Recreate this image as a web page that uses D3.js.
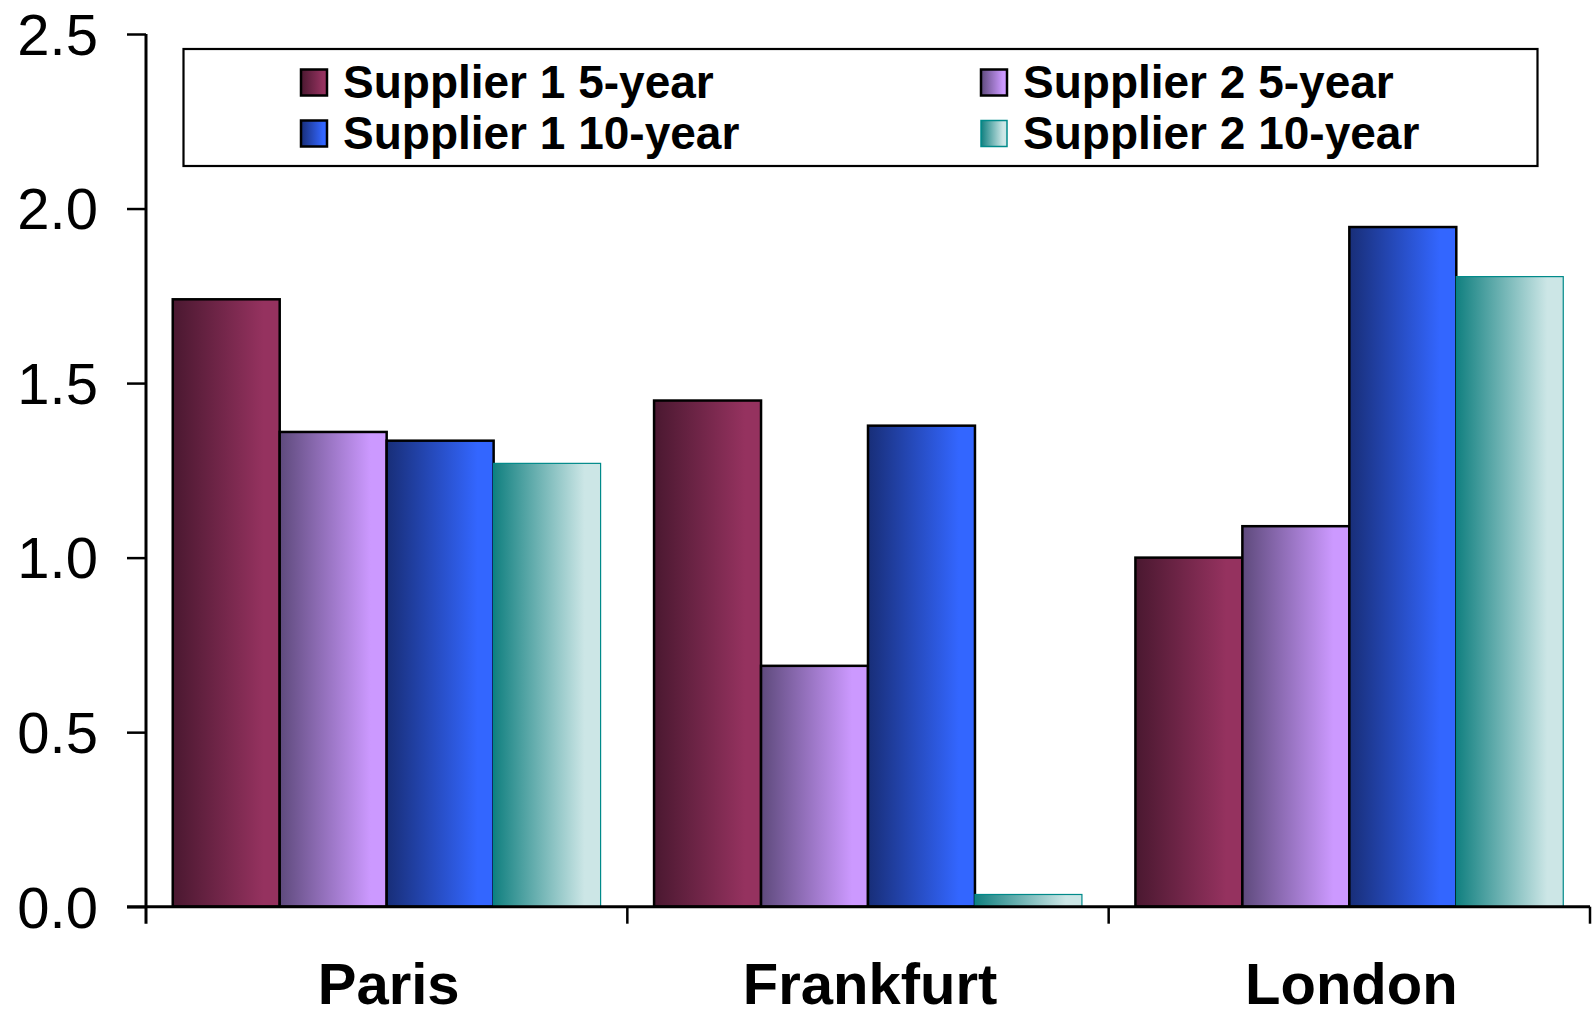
<!DOCTYPE html>
<html>
<head>
<meta charset="utf-8">
<script src="https://cdn.jsdelivr.net/npm/d3@7"></script>
<style>
  html, body { margin: 0; padding: 0; background: #fff; }
  svg { display: block; }
  text { font-family: "Liberation Sans", Arial, sans-serif; }
</style>
</head>
<body>
<svg id="chart" width="1596" height="1017"></svg>
<script>
const categories = ["Paris", "Frankfurt", "London"];
const seriesNames = ["Supplier 1 5-year", "Supplier 2 5-year", "Supplier 1 10-year", "Supplier 2 10-year"];
const supplier1_5yr = [1.74, 1.45, 1.0];
const supplier2_5yr = [1.36, 0.69, 1.09];
const supplier1_10yr = [1.335, 1.378, 1.947];
const supplier2_10yr = [1.27, 0.035, 1.805];
const yTicks = [0, 0.5, 1.0, 1.5, 2.0, 2.5];

const seriesValues = [supplier1_5yr, supplier2_5yr, supplier1_10yr, supplier2_10yr];
const seriesStyle = [
  { dark: "#4a1830", light: "#95325f", stroke: "#000", sw: 2.5 },
  { dark: "#5e4a7c", light: "#cc99ff", stroke: "#000", sw: 2.5 },
  { dark: "#182e78", light: "#3366ff", stroke: "#000", sw: 2.5 },
  { dark: "#118080", light: "#cce6e6", stroke: "#008a8a", sw: 1.2 }
];

const svg = d3.select("#chart");
const plotLeft = 146, plotRight = 1590, plotTop = 34, plotBottom = 906.7;

const y = d3.scaleLinear().domain([0, 2.5]).range([plotBottom, plotTop]);
const x0 = d3.scaleBand().domain(categories).range([plotLeft, plotRight]).paddingInner(0).paddingOuter(0);
const x1 = d3.scaleBand().domain(d3.range(seriesNames.length)).range([0, x0.bandwidth()]).paddingInner(0).paddingOuter(0.25);

// gradients
const defs = svg.append("defs");
seriesStyle.forEach((s, i) => {
  const g = defs.append("linearGradient").attr("id", "grad" + i)
    .attr("x1", "0%").attr("x2", "100%").attr("y1", "0%").attr("y2", "0%");
  g.append("stop").attr("offset", "0%").attr("stop-color", s.dark);
  g.append("stop").attr("offset", "85%").attr("stop-color", s.light);
  g.append("stop").attr("offset", "100%").attr("stop-color", s.light);
});

// bars
const groups = svg.append("g").selectAll("g").data(categories).join("g")
  .attr("transform", d => `translate(${x0(d)},0)`);
groups.selectAll("rect")
  .data((c, ci) => seriesValues.map((vals, si) => ({ si, v: vals[ci] })))
  .join("rect")
  .attr("x", d => x1(d.si))
  .attr("width", x1.bandwidth())
  .attr("y", d => y(d.v))
  .attr("height", d => y(0) - y(d.v))
  .attr("fill", d => `url(#grad${d.si})`)
  .attr("stroke", d => seriesStyle[d.si].stroke)
  .attr("stroke-width", d => seriesStyle[d.si].sw);

// y axis
const yAxis = d3.axisLeft(y).tickValues(yTicks).tickFormat(d3.format(".1f"))
  .tickSize(19).tickSizeOuter(0).tickPadding(29);
const gy = svg.append("g").attr("transform", `translate(${plotLeft},0)`).call(yAxis);
gy.select(".domain").remove();
gy.selectAll(".tick line").attr("stroke", "#000").attr("stroke-width", 2.5);
gy.selectAll(".tick text").attr("font-size", 58).attr("fill", "#000")
  .attr("font-family", "'Liberation Sans', Arial, sans-serif").attr("dy", "0.35em");
svg.append("line").attr("x1", plotLeft).attr("x2", plotLeft)
  .attr("y1", plotTop).attr("y2", plotBottom + 17)
  .attr("stroke", "#000").attr("stroke-width", 3);

// x axis
svg.append("line").attr("x1", plotLeft - 19).attr("x2", plotRight)
  .attr("y1", plotBottom).attr("y2", plotBottom)
  .attr("stroke", "#000").attr("stroke-width", 3);
const boundaries = categories.map(c => x0(c)).concat([x0(categories[categories.length - 1]) + x0.bandwidth()]);
svg.append("g").selectAll("line").data(boundaries.slice(1)).join("line")
  .attr("x1", d => d).attr("x2", d => d)
  .attr("y1", plotBottom).attr("y2", plotBottom + 17)
  .attr("stroke", "#000").attr("stroke-width", 2.5);
svg.append("g").selectAll("text").data(categories).join("text")
  .attr("x", d => x0(d) + x0.bandwidth() / 2 + 2)
  .attr("y", 1004)
  .attr("text-anchor", "middle")
  .attr("font-size", 58).attr("font-weight", "bold").attr("fill", "#000")
  .text(d => d);

// legend
svg.append("rect").attr("x", 183.5).attr("y", 49).attr("width", 1354).attr("height", 117)
  .attr("fill", "#fff").attr("stroke", "#000").attr("stroke-width", 2.2);
const legendPos = [
  { x: 301, y: 98 }, { x: 981, y: 98 }, { x: 301, y: 149 }, { x: 981, y: 149 }
];
const leg = svg.append("g").selectAll("g").data(seriesNames).join("g")
  .attr("transform", (d, i) => `translate(${legendPos[i].x},${legendPos[i].y})`);
leg.append("rect").attr("x", 0).attr("y", -28.5).attr("width", 26).attr("height", 26)
  .attr("fill", (d, i) => `url(#grad${i})`)
  .attr("stroke", (d, i) => seriesStyle[i].stroke)
  .attr("stroke-width", (d, i) => i === 3 ? 1.5 : 2.5);
leg.append("text").attr("x", 42).attr("y", 0)
  .attr("font-size", 46).attr("font-weight", "bold").attr("fill", "#000")
  .text(d => d);
</script>
</body>
</html>
